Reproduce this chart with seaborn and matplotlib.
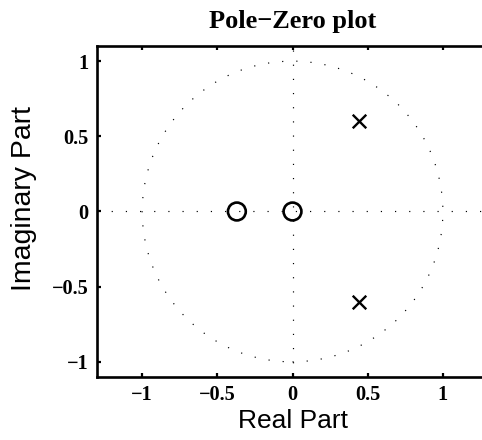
import numpy as np
import matplotlib
matplotlib.use("Agg")
import matplotlib.pyplot as plt
import seaborn as sns

# zeros and poles
zero_re = [0.0, -0.37]
zero_im = [0.0, 0.0]
pole_re = [0.445, 0.445]
pole_im = [0.6, -0.6]

xticks = [-1, -0.5, 0, 0.5, 1]
yticks = [-1, -0.5, 0, 0.5, 1]
tick_labels = ["\u22121", "\u22120.5", "0", "0.5", "1"]

sns.set_style("ticks", {"axes.edgecolor": "k", "xtick.color": "k",
                        "ytick.color": "k", "text.color": "k",
                        "axes.labelcolor": "k"})
plt.rcParams["xtick.direction"] = "in"
plt.rcParams["ytick.direction"] = "in"

fig = plt.figure(figsize=(4.82, 4.4), dpi=100)
# right spine falls just outside the picture, like the reference
ax = fig.add_axes([97 / 482, 63 / 440, 391 / 482, 331 / 440])

dots = (0, (1, 11))
ax.add_patch(plt.Circle((0, 0), 1, fill=False, ls=dots, lw=0.85, color="k"))
ax.axhline(0, ls=dots, lw=0.85, color="k")
ax.axvline(0, ls=dots, lw=0.85, color="k")

sns.scatterplot(x=zero_re, y=zero_im, marker="o", s=165, facecolors="none",
                edgecolor="k", linewidth=1.9, ax=ax, zorder=3)
sns.scatterplot(x=pole_re, y=pole_im, marker="x", s=95, color="k",
                linewidth=1.7, ax=ax, zorder=3)

ax.set_xlim(-1.3, 1.3)
ax.set_ylim(-1.1, 1.1)
ax.set_aspect("equal")

ax.set_xticks(xticks)
ax.set_yticks(yticks)
serif = dict(family="Liberation Serif", weight="bold", size=14.6)
ax.set_xticklabels(tick_labels, fontdict=serif)
ax.set_yticklabels(tick_labels, fontdict=serif)
ax.tick_params(axis="both", which="both", length=3, width=1.6, top=True,
               right=True, pad=6)

for sp in ax.spines.values():
    sp.set_linewidth(1.9)
    sp.set_visible(True)

ax.set_xlabel("Real Part", family="Liberation Sans", fontsize=19, labelpad=3)
ax.set_ylabel("Imaginary Part", family="Liberation Sans", fontsize=20.5)
ax.yaxis.set_label_coords(-0.153, 0.54)
ax.set_title("Pole\u2212Zero plot", family="Liberation Serif", weight="bold",
             fontsize=19, pad=13)

fig.savefig("out.png", dpi=100)
